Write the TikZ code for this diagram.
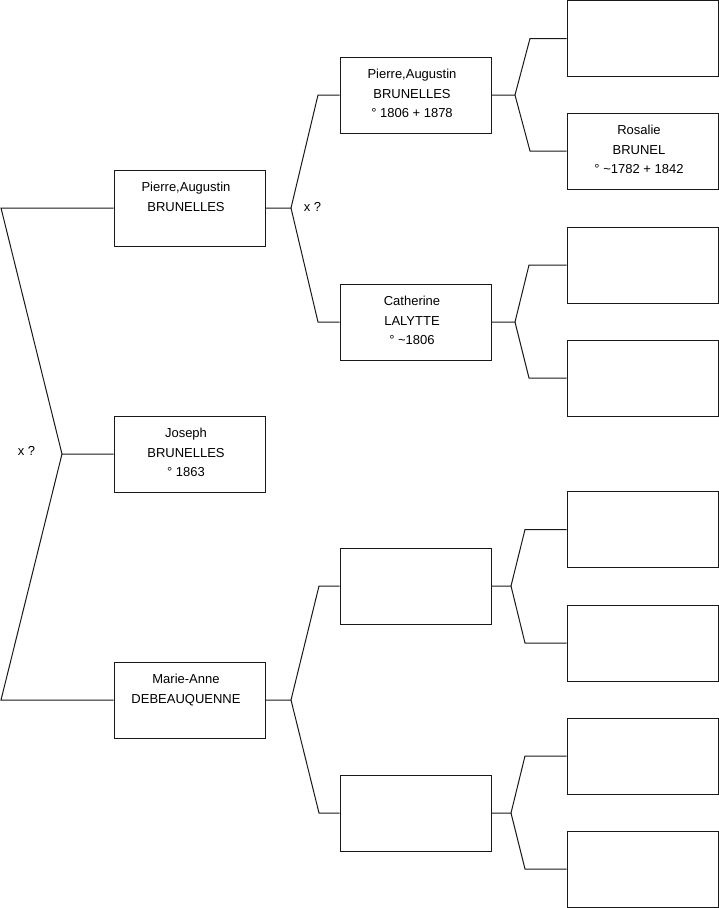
\documentclass[tikz,border=0pt]{standalone}
\usepackage{fontspec}
\setmainfont{Liberation Sans}
\begin{document}
\begin{tikzpicture}[x=1pt,y=-1pt,
  pbox/.style={draw=black!90, line width=1pt, rectangle, minimum width=151pt, minimum height=76pt, inner sep=0pt, fill=white},
  ptext/.style={inner sep=0pt, font=\fontsize{13}{19.5}\selectfont},
  conn/.style={draw=black!90, line width=1pt},
  lab/.style={inner sep=0pt, font=\fontsize{13}{16}\selectfont}]
\useasboundingbox (0,0) rectangle (719,908);
\newcommand\personbox[3]{%
  \node[pbox] (#1) at (#2) {};
  \node[ptext, anchor=base] (#1t) at ([xshift=-3.5pt,yshift=-22pt]#1.north)
    {\parbox[t]{151pt}{\centering\fontsize{13}{19.5}\selectfont #3}};}
% generation 1
\personbox{pa}{189.5,208}{Pierre,Augustin\\BRUNELLES}
\personbox{jo}{189.5,454}{Joseph\\BRUNELLES\\° 1863}
\personbox{ma}{189.5,700}{Marie-Anne\\DEBEAUQUENNE}
% generation 2
\personbox{pb}{415.5,95}{Pierre,Augustin\\BRUNELLES\\° 1806 + 1878}
\personbox{ca}{415.5,322}{Catherine\\LALYTTE\\° \textasciitilde1806}
\personbox{ea}{415.5,586}{}
\personbox{eb}{415.5,813}{}
% generation 3
\personbox{g1}{642.5,38.5}{}
\personbox{g2}{642.5,151}{Rosalie\\BRUNEL\\° \textasciitilde1782 + 1842}
\personbox{g3}{642.5,265}{}
\personbox{g4}{642.5,378}{}
\personbox{g5}{642.5,529.5}{}
\personbox{g6}{642.5,643}{}
\personbox{g7}{642.5,756}{}
\personbox{g8}{642.5,869}{}
% junctions
\coordinate (jl) at (62,454);
\coordinate (tl) at (1,208);
\coordinate (bl) at (1,700);
\coordinate (j1) at (291,208);
\coordinate (j2) at (291,700);
\coordinate (k1) at (515,95);
\coordinate (k2) at (515,322);
\coordinate (k3) at (511,586);
\coordinate (k4) at (511,813);
% connectors
\draw[conn] (pa.west) -- (tl) -- (jl) -- (jo.west);
\draw[conn] (jl) -- (bl) -- (ma.west);
\draw[conn] (pa.east) -- (j1) -- (318,95) -- (pb.west);
\draw[conn] (j1) -- (318,322) -- (ca.west);
\draw[conn] (ma.east) -- (j2) -- (319,586) -- (ea.west);
\draw[conn] (j2) -- (319,813) -- (eb.west);
\draw[conn] (pb.east) -- (k1) -- (530,38.5) -- (g1.west);
\draw[conn] (k1) -- (530,151) -- (g2.west);
\draw[conn] (ca.east) -- (k2) -- (529,265) -- (g3.west);
\draw[conn] (k2) -- (529,378) -- (g4.west);
\draw[conn] (ea.east) -- (k3) -- (525,529.5) -- (g5.west);
\draw[conn] (k3) -- (525,643) -- (g6.west);
\draw[conn] (eb.east) -- (k4) -- (525,756) -- (g7.west);
\draw[conn] (k4) -- (525,869) -- (g8.west);
% marriage labels
\node[lab] (x1) at (26.5,451) {x ?};
\node[lab] (x2) at (312.5,207) {x ?};
\end{tikzpicture}
\end{document}
